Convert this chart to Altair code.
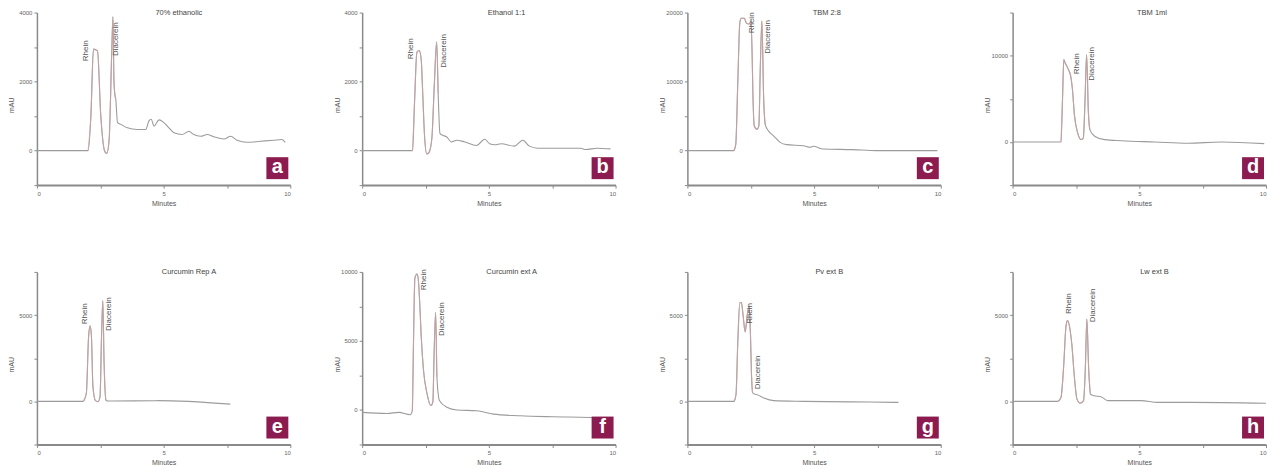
import altair as alt
import pandas as pd

# ---------------- data ----------------
TITLES = ["70% ethanolic", "Ethanol 1:1", "TBM 2:8", "TBM 1ml",
          "Curcumin Rep A", "Curcumin ext A", "Pv ext B", "Lw ext B"]
TITLE_T = [5.6, 5.7, 5.5, 5.5, 6.0, 5.9, 5.6, 5.6]
LETTERS = ["a", "b", "c", "d", "e", "f", "g", "h"]
PEAK_NAMES = ["Rhein", "Diacerein"]

A_T = [0, 2.02, 2.13, 2.23, 2.39, 2.52, 2.68, 2.76, 2.85, 2.95, 3.00, 3.04, 3.08, 3.11, 3.18,
       3.31, 3.57, 3.96, 4.29, 4.42, 4.51, 4.62, 4.82, 5.01, 5.21, 5.41, 5.73, 6.00, 6.19, 6.46,
       6.72, 6.98, 7.38, 7.64, 7.90, 8.29, 8.82, 9.34, 9.67, 9.80]
A_V = [0, 0, 1010, 2940, 2890, 1010, -30, -80, 320, 2790, 3880, 2000, 1600, 1500, 810,
       760, 660, 610, 610, 860, 910, 710, 890, 810, 660, 515, 465, 560, 465, 415,
       465, 400, 335, 415, 300, 240, 270, 300, 320, 240]

B_T = [0, 1.99, 2.07, 2.16, 2.25, 2.33, 2.38, 2.46, 2.55, 2.64, 2.75, 2.85, 2.94, 3.00, 3.07,
       3.16, 3.33, 3.53, 3.73, 4.05, 4.51, 4.84, 5.03, 5.23, 5.49, 6.01, 6.34, 6.60, 6.93, 7.58,
       8.63, 8.82, 9.28, 9.80]
B_V = [0, 0, 1450, 2850, 2900, 2650, 1850, 450, -100, -50, 350, 1950, 3150, 1650, 500,
       450, 400, 250, 300, 250, 150, 330, 200, 170, 200, 130, 300, 130, 70, 70,
       70, 30, 70, 50]

C_T = [0, 1.83, 1.91, 1.99, 2.07, 2.12, 2.25, 2.33, 2.42, 2.51, 2.55, 2.59, 2.64, 2.75, 2.82,
       2.88, 2.94, 3.01, 3.07, 3.20, 3.40, 3.66, 3.92, 4.58, 4.84, 4.97, 5.36, 6.54, 7.45, 9.87]
C_V = [0, 0, 950, 10000, 18560, 19180, 19180, 18470, 18330, 18660, 14760, 7600, 3570, 3090, 3570,
       12380, 18800, 7600, 3800, 2860, 2140, 1190, 860, 710, 480, 620, 240, 140, 0, 0]

D_T = [0, 1.91, 1.97, 2.02, 2.07, 2.14, 2.20, 2.29, 2.36, 2.44, 2.57, 2.70, 2.79, 2.86, 2.92,
       2.99, 3.05, 3.25, 3.64, 4.30, 5.61, 6.92, 8.23, 9.93]
D_V = [0, 0, 5000, 9550, 9170, 8790, 8410, 7660, 6140, 3110, 1020, 270, 450, 5000, 10120,
       3490, 1400, 640, 270, 150, 0, -150, 0, -190]

E_T = [0, 1.82, 1.95, 2.04, 2.10, 2.15, 2.21, 2.31, 2.41, 2.49, 2.55, 2.60, 2.65, 2.72, 2.81,
       4.80, 7.63]
E_V = [0, 0, 470, 3790, 4375, 3790, 860, 40, -20, 270, 3790, 5840, 2230, 80, 20, 40, -160]

F_T = [0, 0.98, 1.44, 1.90, 1.98, 2.03, 2.08, 2.16, 2.21, 2.27, 2.33, 2.42, 2.56, 2.71, 2.79,
       2.84, 2.90, 2.95, 3.05, 3.34, 3.74, 4.52, 5.18, 6.23, 7.54, 8.98, 9.90]
F_V = [-170, -250, -170, -340, -50, 5360, 9540, 9840, 9540, 7820, 5360, 2900, 1180, 320, 570,
       4130, 7080, 2410, 690, 200, 0, -50, -300, -420, -490, -540, -660]

G_T = [0, 1.84, 1.92, 1.99, 2.07, 2.13, 2.20, 2.28, 2.36, 2.44, 2.49, 2.53, 2.57, 2.65, 2.76,
       3.02, 3.41, 4.59, 7.22, 8.33]
G_V = [0, 0, 420, 3450, 5720, 5720, 4960, 4020, 4960, 5530, 3830, 1550, 510, 420, 380,
       190, 40, 0, -40, -60]

H_T = [0, 1.78, 1.91, 2.01, 2.11, 2.17, 2.28, 2.34, 2.43, 2.54, 2.67, 2.80, 2.87, 2.93, 3.00,
       3.07, 3.22, 3.49, 3.75, 5.07, 5.72, 7.04, 10.0]
H_V = [0, 0, 230, 1930, 4390, 4680, 4020, 3260, 1550, 130, -110, 40, 1930, 4770, 1930,
       420, 320, 270, 40, 40, -60, -60, -110]

# integrated peak windows (minutes), drawn in a reddish tint as in the reference
PEAK_START = [2.02, 1.99, 1.83, 1.91, 1.82, 1.98, 1.84, 1.78]
PEAK_END = [3.11, 3.00, 3.07, 3.05, 2.72, 2.95, 2.57, 3.07]

# peak label anchors (time, mAU at the lower end of the rotated label)
LAB_T = [[1.93, 3.11], [1.93, 3.24], [2.55, 3.20], [2.53, 3.12],
         [1.91, 2.84], [2.45, 3.15], [2.49, 2.78], [2.24, 3.16]]
LAB_V = [[2590, 2740], [2650, 2400], [17000, 14040], [7850, 7090],
         [4470, 4080], [8680, 5360], [4490, 700], [5060, 4580]]

# y-axis: domain min, domain max, tick step, labelled step
Y_MIN = [-1000, -1000, -5000, -5000, -2500, -2500, -2500, -2500]
Y_MAX = [4000, 4000, 20000, 15000, 7500, 10000, 7500, 7500]
Y_STEP = [1000, 1000, 5000, 5000, 2500, 2500, 2500, 2500]
Y_LAB = [2000, 2000, 10000, 10000, 5000, 5000, 5000, 5000]

TRACES = [(A_T, A_V), (B_T, B_V), (C_T, C_V), (D_T, D_V),
          (E_T, E_V), (F_T, F_V), (G_T, G_V), (H_T, H_V)]

# ---------------- styling ----------------
W, H = 254, 173
FONT = "Liberation Sans"
MAROON = "#8c1c4f"
TRACE = "#9c9c9c"
PEAK = "#c9a2a4"
AXIS = "#8a8a8a"


def panel(i):
    t, v = TRACES[i]
    ymin, ymax, step, lab = Y_MIN[i], Y_MAX[i], Y_STEP[i], Y_LAB[i]
    yvals = list(range(ymin, ymax + 1, step))
    x_enc = alt.X("t:Q", scale=alt.Scale(domain=[0, 10], nice=False, zero=False),
                  axis=alt.Axis(values=[0, 2.5, 5, 7.5, 10], title="Minutes",
                                labelExpr="datum.value % 5 == 0 ? datum.label : ''",
                                domainWidth=2, titlePadding=3, labelPadding=2))
    y_enc = alt.Y("v:Q", scale=alt.Scale(domain=[ymin, ymax], nice=False, zero=False),
                  axis=alt.Axis(values=yvals, format="d", title="mAU",
                                labelExpr=f"datum.value >= 0 && datum.value % {lab} == 0 ? datum.label : ''",
                                titleX=-22, titleY=H / 2 + 6, domainWidth=1.5, labelPadding=2))

    df = pd.DataFrame({"t": t, "v": v})
    line = alt.Chart(df).mark_line(color=TRACE, strokeWidth=1.1, interpolate="monotone").encode(
        x=x_enc, y=y_enc)
    pk = df[(df.t >= PEAK_START[i]) & (df.t <= PEAK_END[i])]
    peak = alt.Chart(pk).mark_line(color=PEAK, strokeWidth=1.1, interpolate="monotone",
                                   opacity=0.8).encode(x=x_enc, y=y_enc)

    lab_df = pd.DataFrame({"t": LAB_T[i], "v": LAB_V[i], "s": PEAK_NAMES})
    labels = alt.Chart(lab_df).mark_text(angle=270, align="left", baseline="middle",
                                         fontSize=8, color="#555555", font=FONT).encode(
        x=x_enc, y=y_enc, text="s:N")

    ttl_df = pd.DataFrame({"t": [TITLE_T[i]], "v": [ymax], "s": [TITLES[i]]})
    title = alt.Chart(ttl_df).mark_text(baseline="middle", fontSize=7.5, color="#444444",
                                        font=FONT).encode(x=x_enc, y=y_enc, text="s:N")

    let_df = pd.DataFrame({"l": [LETTERS[i]]})
    box = alt.Chart(let_df).mark_square(size=484, color=MAROON, opacity=1).encode(
        x=alt.value(W - 13), y=alt.value(H - 17))
    letter = alt.Chart(let_df).mark_text(fontSize=20, fontWeight="bold", color="white",
                                         font=FONT, baseline="middle", dy=-1).encode(
        x=alt.value(W - 13), y=alt.value(H - 17), text="l:N")

    return alt.layer(line, peak, labels, title, box, letter).properties(width=W, height=H)


chart = alt.concat(*[panel(i) for i in range(8)], columns=4,
                   spacing={"row": 87, "column": 72}, bounds="flush").properties(
    padding=0
).configure_view(
    stroke=None
).configure_axis(
    grid=False, domainColor=AXIS, tickColor=AXIS, tickSize=3, labelColor="#666666",
    titleColor="#555555", labelFontSize=6, titleFontSize=7, labelFont=FONT, titleFont=FONT,
    titleFontWeight="normal"
)

chart.save("out.html", embed_options={"renderer": "svg", "actions": False})
